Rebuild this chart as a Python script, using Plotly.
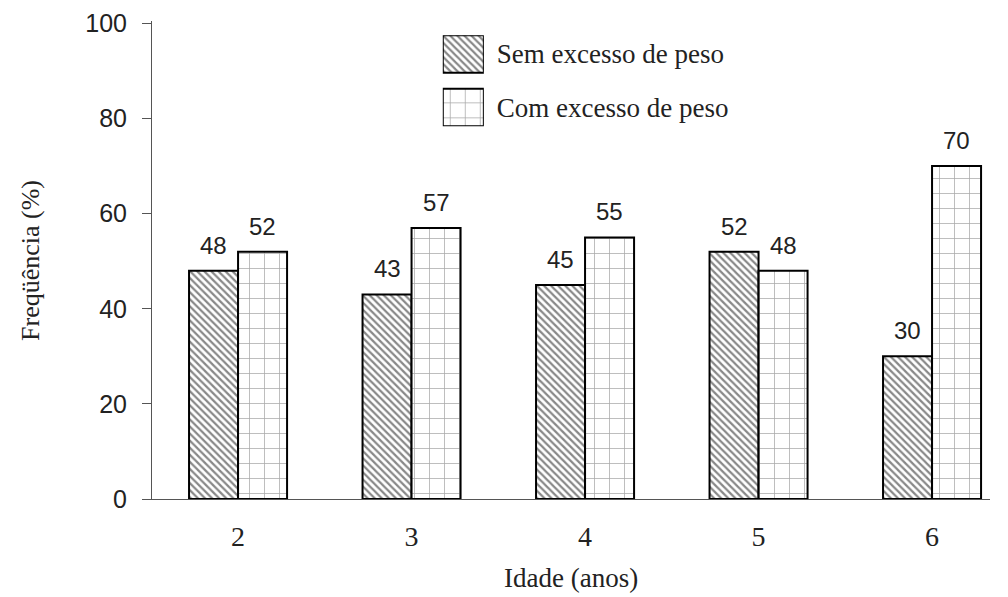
import plotly.graph_objects as go

idades = [2, 3, 4, 5, 6]
idade_labels = ["2", "3", "4", "5", "6"]
sem_excesso = [48, 43, 45, 52, 30]
com_excesso = [52, 57, 55, 48, 70]
series_names = ["Sem excesso de peso", "Com excesso de peso"]
y_ticks = [0, 20, 40, 60, 80, 100]

serif = "Liberation Serif, Times New Roman, serif"
sans = "Liberation Sans, Arial, sans-serif"
ink = "#222"

pat_sem = dict(shape="\\", fgcolor="#111", bgcolor="white", size=5, solidity=0.45)
pat_com = dict(shape="+", fgcolor="#555", bgcolor="white", size=15, solidity=0.1)
outline = dict(color="black", width=2)

fig = go.Figure()
fig.add_trace(go.Bar(
    x=idades, y=sem_excesso, name=series_names[0], offsetgroup="a",
    marker=dict(color="white", line=outline, pattern=pat_sem), showlegend=False,
))
fig.add_trace(go.Bar(
    x=idades, y=com_excesso, name=series_names[1], offsetgroup="b",
    marker=dict(color="white", line=outline, pattern=pat_com), showlegend=False,
))

# legend swatches drawn as an inset bar chart with large boxes
fig.add_trace(go.Bar(
    x=[1], y=[series_names[0]], orientation="h", width=0.7, offset=-0.35,
    xaxis="x2", yaxis="y2", showlegend=False, hoverinfo="skip",
    marker=dict(color="white", line=outline, pattern=pat_sem),
))
fig.add_trace(go.Bar(
    x=[1], y=[series_names[1]], orientation="h", width=0.7, offset=-0.35,
    xaxis="x2", yaxis="y2", showlegend=False, hoverinfo="skip",
    marker=dict(color="white", line=outline, pattern=pat_com),
))

bw = 0.2825
for xi, v in zip(idades, sem_excesso):
    fig.add_annotation(x=xi - bw / 2, y=v, text=str(v), showarrow=False,
                       yanchor="bottom", yshift=10, font=dict(family=sans, size=24, color=ink))
for xi, v in zip(idades, com_excesso):
    fig.add_annotation(x=xi + bw / 2, y=v, text=str(v), showarrow=False,
                       yanchor="bottom", yshift=10, font=dict(family=sans, size=24, color=ink))

fig.add_annotation(text="Idade (anos)", xref="paper", yref="paper", x=0.5, y=-0.165,
                   xanchor="center", yanchor="middle", showarrow=False,
                   font=dict(family=serif, size=27, color=ink))
fig.add_annotation(text="Freqüência (%)", xref="paper", yref="paper", x=-0.1456, y=0.5,
                   xanchor="center", yanchor="middle", textangle=-90, showarrow=False,
                   font=dict(family=serif, size=26, color=ink))

fig.update_layout(
    width=1000, height=589,
    margin=dict(l=144, r=18, t=13, b=98),
    paper_bgcolor="white", plot_bgcolor="white",
    barmode="group", bargap=0.435, bargroupgap=0,
    showlegend=False,
    xaxis=dict(range=[1.504, 6.334], tickvals=idades, ticktext=idade_labels,
               showline=True, linecolor="#555", linewidth=1, ticks="",
               showgrid=False, zeroline=False, ticklabelstandoff=12, automargin=False,
               tickfont=dict(family=serif, size=28, color=ink)),
    yaxis=dict(range=[0, 100.5], tickmode="linear", tick0=y_ticks[0], dtick=y_ticks[1] - y_ticks[0],
               automargin=False,
               showline=True, linecolor="#555", linewidth=1, ticks="outside", ticklen=9,
               tickcolor="#555", showgrid=False, zeroline=False, ticklabelstandoff=10,
               tickfont=dict(family=sans, size=25, color=ink)),
    xaxis2=dict(domain=[0.347, 0.396], range=[0, 1], anchor="y2", automargin=False,
                showline=False, showgrid=False, zeroline=False, showticklabels=False, ticks=""),
    yaxis2=dict(domain=[0.78, 0.97], range=[-0.35, 1.35], anchor="x2", side="right",
                type="category", categoryorder="array", automargin=False,
                categoryarray=[series_names[1], series_names[0]],
                showline=False, showgrid=False, zeroline=False, ticks="",
                ticklabelstandoff=12, tickfont=dict(family=serif, size=27, color=ink)),
)

fig.write_html("out.html")
